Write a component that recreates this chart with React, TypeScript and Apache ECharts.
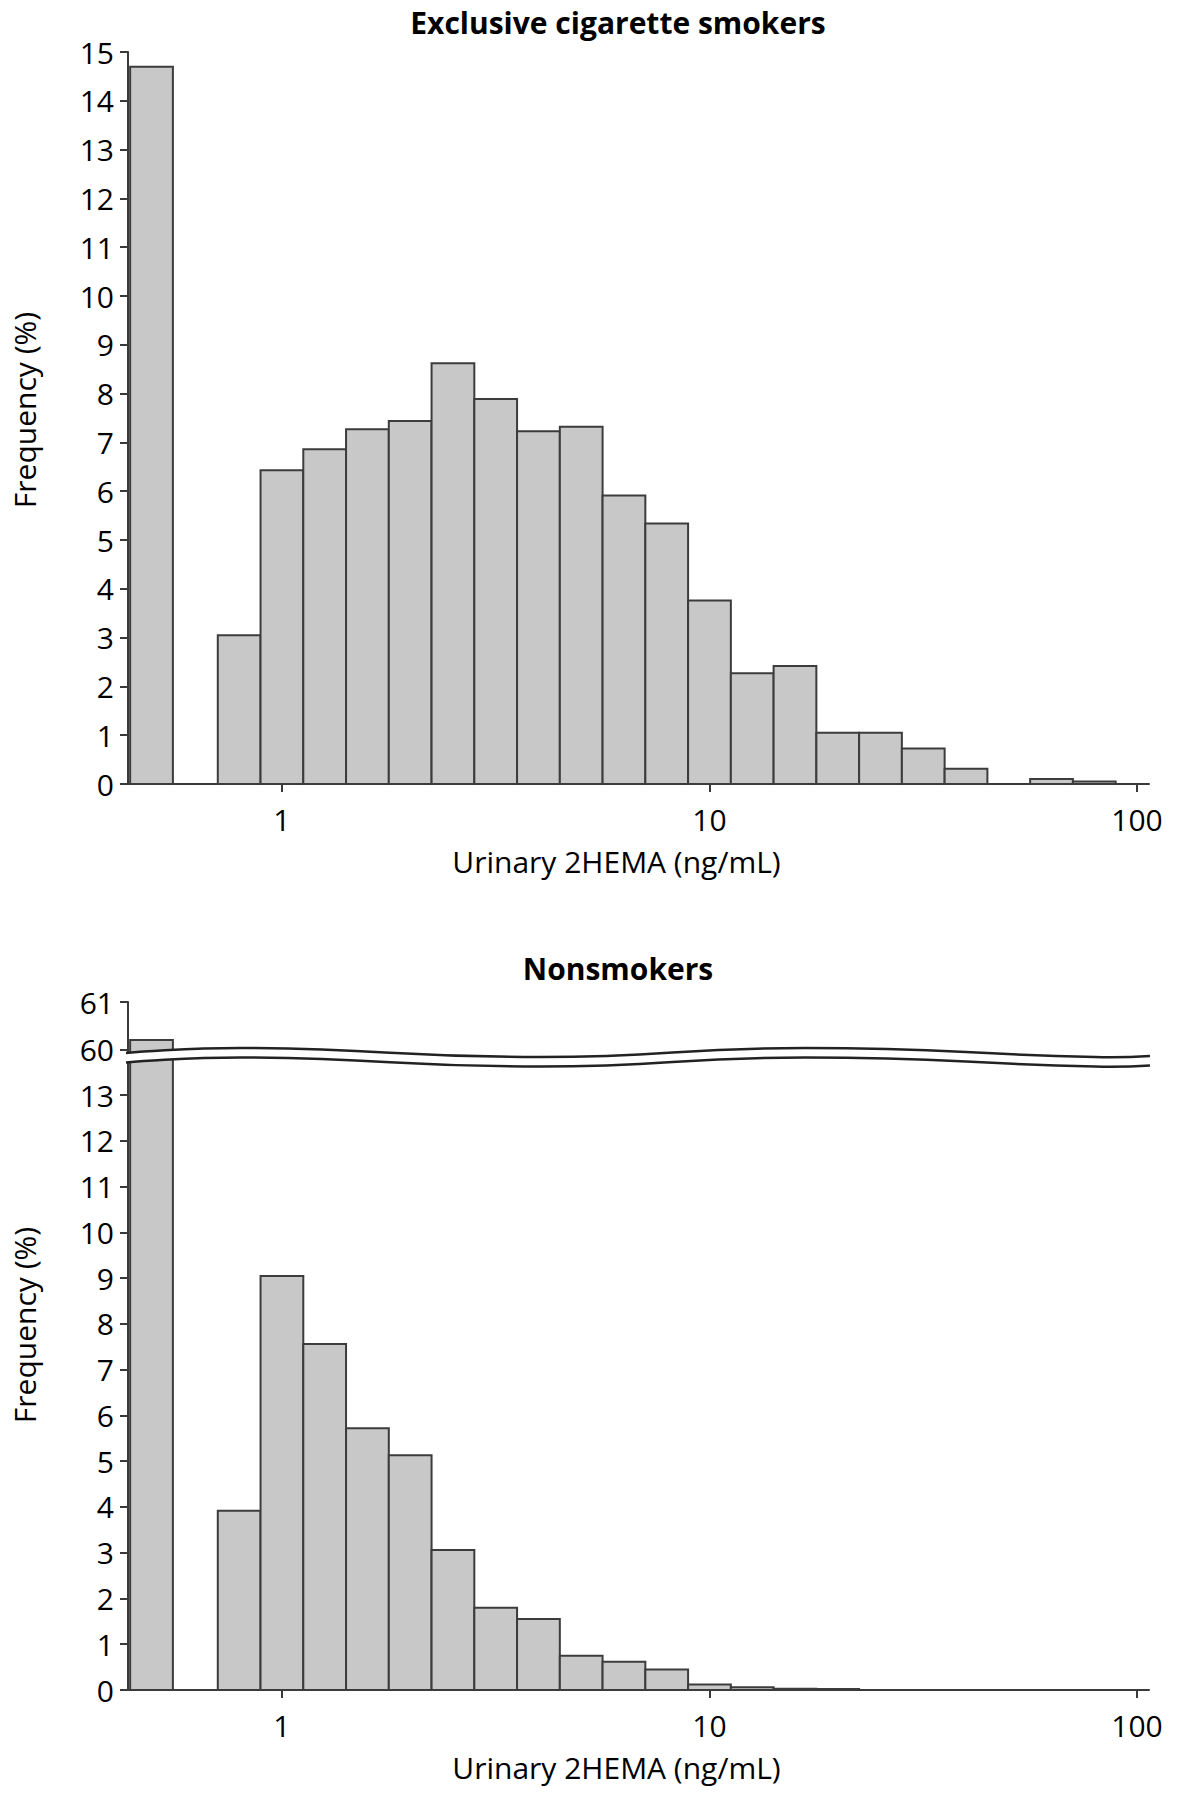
import React, { useEffect, useRef } from 'react';
import * as echarts from 'echarts';

// ---- data (x in log10 of ng/mL, y in % frequency) ----
const binEdgesLog = [-0.15, -0.05, 0.05, 0.15, 0.25, 0.35, 0.45, 0.55, 0.65, 0.75, 0.85, 0.95, 1.05, 1.15, 1.25, 1.35, 1.45, 1.55, 1.65, 1.75, 1.85, 1.95];
const lodBinLog = [-0.355, -0.255];
const smokersLod = 14.7;
const smokersFreq = [3.05, 6.43, 6.86, 7.27, 7.44, 8.62, 7.89, 7.23, 7.32, 5.91, 5.34, 3.76, 2.27, 2.42, 1.05, 1.05, 0.73, 0.31, 0, 0.1, 0.05];
const nonsmokersLod = 60.2;
const nonsmokersFreq = [3.92, 9.05, 7.56, 5.72, 5.13, 3.06, 1.8, 1.55, 0.75, 0.62, 0.45, 0.12, 0.06, 0.03, 0.02];
const xTickLog = [0, 1, 2];
const xTickLabels = ['1', '10', '100'];
const smokersYTicks = [0, 1, 2, 3, 4, 5, 6, 7, 8, 9, 10, 11, 12, 13, 14, 15];
const nonsmokersUpperYTicks = [60, 61];
const nonsmokersLowerYTicks = [0, 1, 2, 3, 4, 5, 6, 7, 8, 9, 10, 11, 12, 13];
const titles = ['Exclusive cigarette smokers', 'Nonsmokers'];
const xTitle = 'Urinary 2HEMA (ng/mL)';
const yTitle = 'Frequency (%)';

const FONT = "'Open Sans', sans-serif";
const TEXT = '#000';
const AXIS = '#3a3a3a';

const toBars = (freq: number[]) =>
  freq
    .map((v, i) => [binEdgesLog[i], binEdgesLog[i + 1], v])
    .filter((d) => d[2] > 0);

const renderBar = (params: any, api: any) => {
  const x0 = api.value(0);
  const x1 = api.value(1);
  const h = api.value(2);
  const p0 = api.coord([x0, h]);
  const p1 = api.coord([x1, 0]);
  const cs = params.coordSys;
  const rect = echarts.graphic.clipRectByRect(
    { x: p0[0], y: p0[1], width: p1[0] - p0[0], height: p1[1] - p0[1] },
    { x: cs.x, y: cs.y, width: cs.width, height: cs.height }
  );
  if (!rect) return null;
  return {
    type: 'rect',
    shape: rect,
    style: { fill: '#c8c8c8', stroke: '#3c3c3c', lineWidth: 2 },
  };
};

const xAxisCfg = (gridIndex: number, show: boolean) => ({
  type: 'value',
  gridIndex,
  min: -0.36,
  max: 2.028,
  show,
  splitLine: { show: false },
  axisLine: { show: true, onZero: false, lineStyle: { color: AXIS, width: 2 } },
  axisTick: { show: true, length: 8, customValues: xTickLog, lineStyle: { color: AXIS, width: 2 } },
  axisLabel: {
    customValues: xTickLog,
    formatter: (v: number) => {
      const i = xTickLog.indexOf(v);
      return i >= 0 ? xTickLabels[i] : '';
    },
    margin: 20,
    fontSize: 30,
    fontFamily: FONT,
    color: TEXT,
  },
  name: show ? xTitle : '',
  nameLocation: 'middle',
  nameGap: 62,
  nameTextStyle: { fontSize: 30, fontFamily: FONT, color: TEXT, padding: [0, 44, 0, 0] },
});

const yAxisCfg = (gridIndex: number, min: number, max: number, ticks: number[]) => ({
  type: 'value',
  gridIndex,
  min,
  max,
  splitLine: { show: false },
  axisLine: { show: true, onZero: false, lineStyle: { color: AXIS, width: 2 } },
  axisTick: { show: true, length: 8, customValues: ticks, lineStyle: { color: AXIS, width: 2 } },
  axisLabel: { customValues: ticks, margin: 14, fontSize: 30, fontFamily: FONT, color: TEXT },
});

// break decoration (wavy double line) geometry
const waveBase = [
  [126, 1053],
  [250, 1048],
  [540, 1057],
  [805, 1048],
  [1095, 1057],
  [1150, 1056],
];
const shiftPts = (dy: number) => waveBase.map((p) => [p[0], p[1] + dy]);

export default function App() {
  const ref = useRef<HTMLDivElement>(null);
  useEffect(() => {
    if (!ref.current) return;
    const chart = echarts.init(ref.current, undefined, { renderer: 'svg' });
    const option: any = {
      animation: false,
      backgroundColor: '#fff',
      grid: [
        { left: 128, top: 52, width: 1021, height: 732 },
        { left: 128, top: 1002, width: 1021, height: 54 },
        { left: 128, top: 1059, width: 1021, height: 631 },
      ],
      xAxis: [xAxisCfg(0, true), xAxisCfg(1, false), xAxisCfg(2, true)],
      yAxis: [
        yAxisCfg(0, 0, 15, smokersYTicks),
        yAxisCfg(1, 59.86, 61, nonsmokersUpperYTicks),
        yAxisCfg(2, 0, 13.79, nonsmokersLowerYTicks),
      ],
      series: [
        {
          type: 'custom',
          xAxisIndex: 0,
          yAxisIndex: 0,
          renderItem: renderBar,
          encode: { x: [0, 1], y: 2 },
          data: [[lodBinLog[0], lodBinLog[1], smokersLod], ...toBars(smokersFreq)],
        },
        {
          type: 'custom',
          xAxisIndex: 1,
          yAxisIndex: 1,
          renderItem: renderBar,
          encode: { x: [0, 1], y: 2 },
          data: [[lodBinLog[0], lodBinLog[1], nonsmokersLod]],
        },
        {
          type: 'custom',
          xAxisIndex: 2,
          yAxisIndex: 2,
          renderItem: renderBar,
          encode: { x: [0, 1], y: 2 },
          data: [[lodBinLog[0], lodBinLog[1], nonsmokersLod], ...toBars(nonsmokersFreq)],
        },
      ],
      graphic: [
        {
          type: 'text',
          x: 618,
          y: 22,
          style: { text: titles[0], font: `bold 30px ${FONT}`, fill: TEXT, align: 'center', verticalAlign: 'middle' },
        },
        {
          type: 'text',
          x: 618,
          y: 968,
          style: { text: titles[1], font: `bold 30px ${FONT}`, fill: TEXT, align: 'center', verticalAlign: 'middle' },
        },
        {
          type: 'text',
          x: 24,
          y: 410,
          rotation: Math.PI / 2,
          style: { text: yTitle, font: `30px ${FONT}`, fill: TEXT, align: 'center', verticalAlign: 'middle' },
        },
        {
          type: 'text',
          x: 24,
          y: 1325,
          rotation: Math.PI / 2,
          style: { text: yTitle, font: `30px ${FONT}`, fill: TEXT, align: 'center', verticalAlign: 'middle' },
        },
        {
          type: 'polyline',
          z: 100,
          shape: { points: shiftPts(4.75), smooth: 0.5 },
          style: { stroke: '#fff', lineWidth: 10, fill: null },
        },
        {
          type: 'polyline',
          z: 101,
          shape: { points: shiftPts(0), smooth: 0.5 },
          style: { stroke: '#222', lineWidth: 2.5, fill: null },
        },
        {
          type: 'polyline',
          z: 101,
          shape: { points: shiftPts(9.5), smooth: 0.5 },
          style: { stroke: '#222', lineWidth: 2.5, fill: null },
        },
      ],
    };
    chart.setOption(option);
    return () => chart.dispose();
  }, []);
  return (
    <div
      ref={ref}
      style={{ position: 'absolute', left: 0, top: 0, width: 1180, height: 1800, background: '#fff' }}
    />
  );
}
